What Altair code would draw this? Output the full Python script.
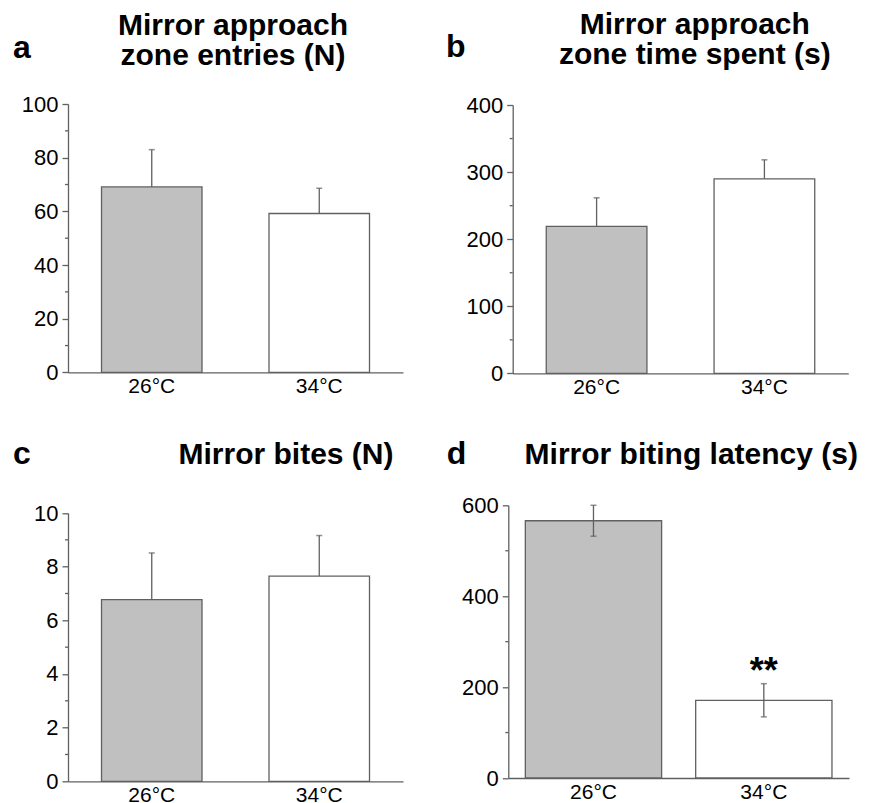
import altair as alt
import pandas as pd

FONT = "Liberation Sans"
LINE = "#606060"

# Group labels and measured means / SEM for each panel
temps = ["26°C", "34°C"]
fills = ["#c0c0c0", "#ffffff"]

entries_mean = [69.1, 59.2]
entries_sem = [13.9, 9.4]

time_mean = [219.0, 290.0]
time_sem = [42.7, 28.3]

bites_mean = [6.77, 7.65]
bites_sem = [1.74, 1.51]

latency_mean = [566.0, 171.0]
latency_sem = [34.0, 36.5]
latency_stars = ["", "**"]


def frame(means, sems, stars=None):
    return pd.DataFrame({
        "temp": temps,
        "mean": means,
        "lo": [m - s for m, s in zip(means, sems)],
        "hi": [m + s for m, s in zip(means, sems)],
        "star": stars if stars else ["", ""],
    })


def note(text, x, y, size, align="center", line_height=None):
    kw = dict(text=text, align=align, baseline="alphabetic", font=FONT,
              fontSize=size, fontWeight="bold", color="black")
    if line_height:
        kw["lineHeight"] = line_height
    return alt.Chart(pd.DataFrame({"k": [0]})).mark_text(**kw).encode(
        x=alt.value(x), y=alt.value(y))


def panel(means, sems, ymax, major, width, height, pad_inner, pad_outer,
          two_sided, letter, letter_xy, title, title_xy, yrange=None,
          xrange=None, axis_shift=0, stars=None, anchor=None):
    df = frame(means, sems, stars)
    minor_step = major // 2 if major > 2 else 1
    major_vals = list(range(0, ymax + 1, major))
    minor_vals = [v for v in range(0, ymax + 1, minor_step) if v % major != 0]

    xscale_kw = dict(domain=temps, paddingInner=pad_inner, paddingOuter=pad_outer)
    if xrange:
        xscale_kw["range"] = xrange
    xscale = alt.Scale(**xscale_kw)
    yscale_kw = dict(domain=[0, ymax], nice=False, zero=True)
    if yrange:
        yscale_kw["range"] = yrange
    yscale = alt.Scale(**yscale_kw)

    # every layer carries the same axis definition so the shared axes merge cleanly
    x_axis = alt.Axis(title=None, ticks=False, labelAngle=0,
                      labelPadding=3, labelFontSize=21, labelFont=FONT,
                      labelColor="black", domainColor=LINE, domainWidth=1.3)
    y_axis = alt.Axis(
        title=None, values=major_vals, tickSize=6, offset=-axis_shift,
        labelPadding=4, labelFontSize=22, labelFont=FONT, labelColor="black",
        labelFlush=False, labelOverlap=False, labelBound=False,
        domainColor=LINE, tickColor=LINE, domainWidth=1.3, tickWidth=1.3, grid=False)

    def X():
        return alt.X("temp:N", sort=temps, scale=xscale, axis=x_axis)

    def Y(field):
        return alt.Y(f"{field}:Q", scale=yscale, axis=y_axis)

    base = alt.Chart(df)
    bars = base.mark_bar(stroke=LINE, strokeWidth=1.3).encode(
        x=X(), y=Y("mean"),
        color=alt.Color("temp:N", scale=alt.Scale(domain=temps, range=fills), legend=None),
    )
    low = "lo" if two_sided else "mean"
    whisker = base.mark_rule(color=LINE, strokeWidth=1.3).encode(
        x=X(), y=Y(low), y2="hi:Q",
    )
    cap_hi = base.mark_tick(orient="horizontal", size=6, thickness=1.5, color=LINE).encode(
        x=X(), y=Y("hi"),
    )
    # short minor ticks between the labelled ones
    minor = alt.Chart(pd.DataFrame({"v": minor_vals})).mark_rule(
        color=LINE, strokeWidth=1.3).encode(
        y=Y("v"),
        x=alt.value(axis_shift - 3), x2=alt.value(axis_shift),
    )
    layers = [bars, whisker, cap_hi, minor]
    if two_sided:
        layers.append(base.mark_tick(orient="horizontal", size=6, thickness=1.5, color=LINE).encode(
            x=X(), y=Y("lo"),
        ))
    if stars:
        layers.append(base.mark_text(font=FONT, fontSize=36, fontWeight="bold",
                                     baseline="alphabetic", dy=-1, color="black").encode(
            x=X(), y=Y("hi"), text="star:N",
        ))
    layers.append(note(letter, letter_xy[0], letter_xy[1], 32, align="left"))
    layers.append(note(title, title_xy[0], title_xy[1], 30, line_height=30))
    if anchor:
        layers.append(alt.Chart(pd.DataFrame({"k": [0]})).mark_rect(opacity=0).encode(
            x=alt.value(anchor[0]), x2=alt.value(anchor[0] + 1),
            y=alt.value(anchor[1]), y2=alt.value(anchor[1] + 1)))
    return alt.layer(*layers).properties(width=width, height=height)


pa = panel(entries_mean, entries_sem, 100, 20, 335, 268.4, 0.4, 0.2, False,
           "a", (-55, -46.3), ["Mirror approach", "zone entries (N)"], (165, -69.3),
           anchor=(-68, -103.3))
pb = panel(time_mean, time_sem, 400, 100, 340.7, 269.4, 0.4, 0.2, False,
           "b", (-62.3, -47.3), ["Mirror approach", "zone time spent (s)"], (186.5, -70.3),
           yrange=[269.4, 1.0], xrange=[4.4, 340.0], axis_shift=4.4)
pc = panel(bites_mean, bites_sem, 10, 2, 335, 276.0, 0.4, 0.2, False,
           "c", (-55, -41), "Mirror bites (N)", (218, -41),
           yrange=[276.0, 7.7])
pd_ = panel(latency_mean, latency_sem, 600, 200, 340.7, 272.7, 0.2, 0.1, True,
            "d", (-61.6, -41), "Mirror biting latency (s)", (183, -41),
            stars=latency_stars)

chart = alt.concat(
    pa, pb, pc, pd_, columns=2, align="each", bounds="flush",
    spacing={"row": 131.3, "column": 105.3},
).properties(padding=0, background="white").configure_view(strokeWidth=0)

chart.save("out.html", embed_options={"renderer": "svg", "actions": False})
